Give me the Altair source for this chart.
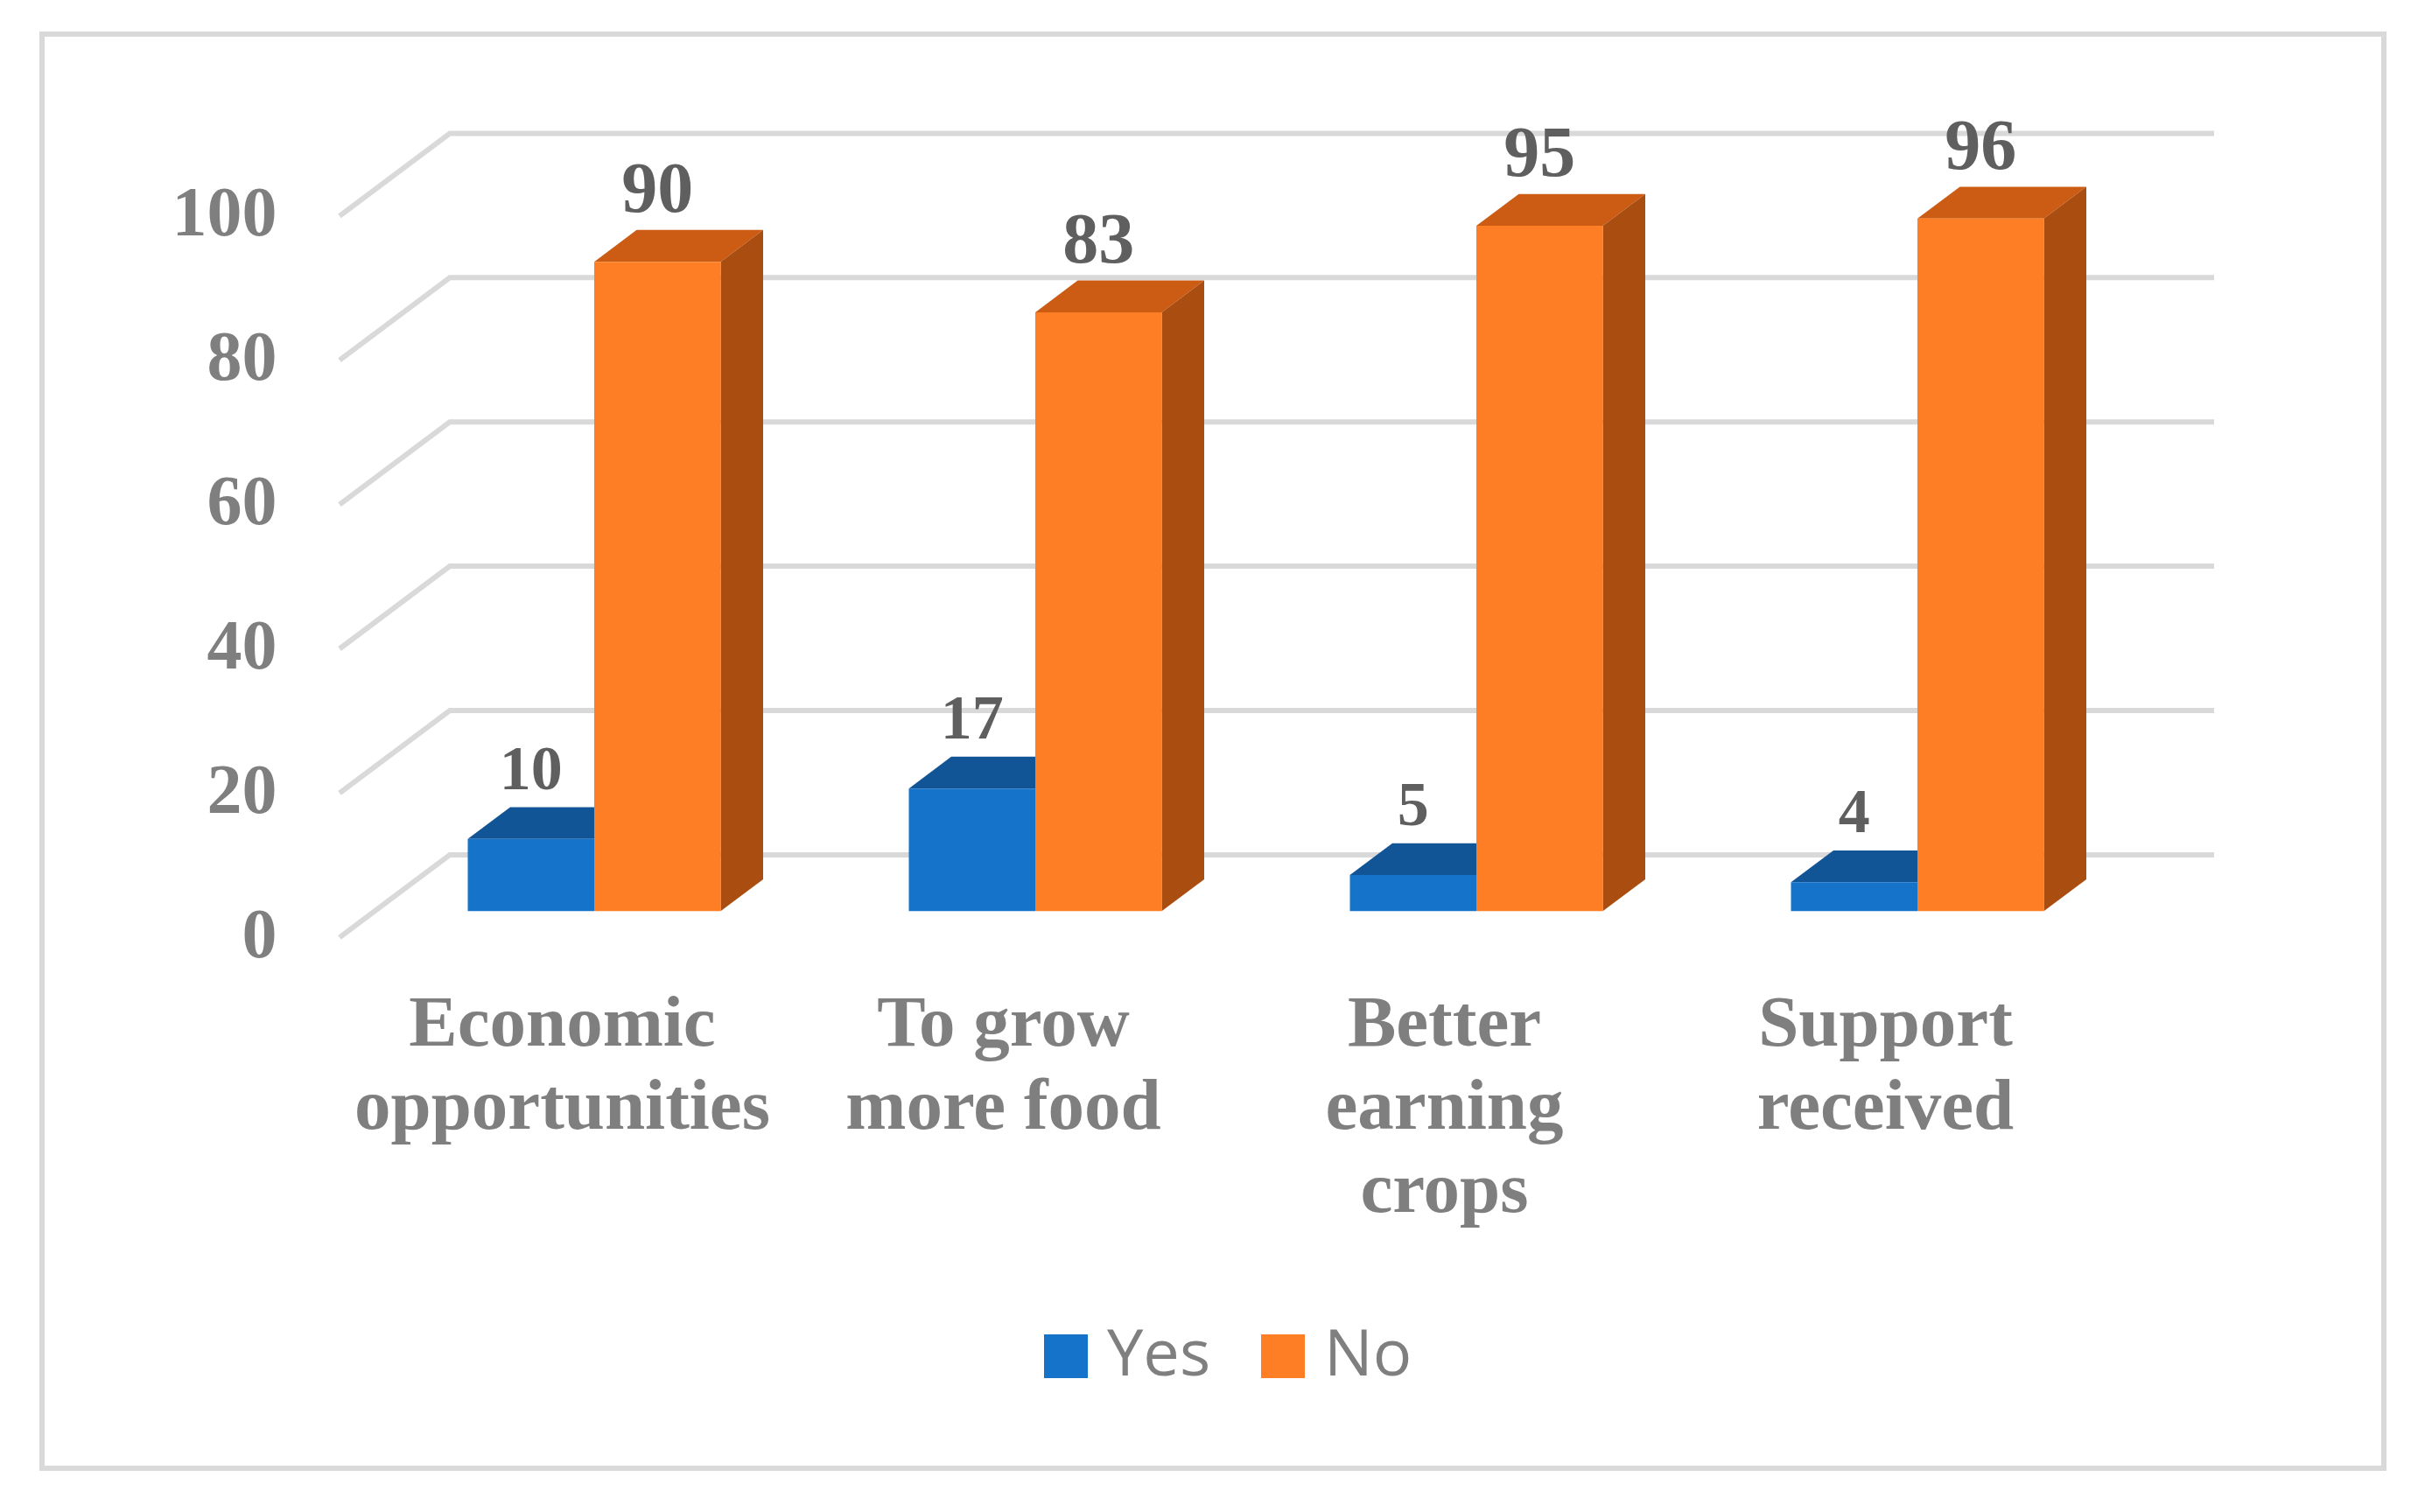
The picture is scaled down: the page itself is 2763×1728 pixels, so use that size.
import json
import altair as alt
import pandas as pd

categories = ["Economic opportunities", "To grow more food", "Better earning crops", "Support received"]
label_lines = [["Economic", "opportunities"], ["To grow", "more food"], ["Better", "earning", "crops"], ["Support", "received"]]
yes_values = [10, 17, 5, 4]
no_values = [90, 83, 95, 96]
y_ticks = [0, 20, 40, 60, 80, 100]

# geometry of the pseudo-3D box, in scale units
PX_X = 504.0      # pixels per category step
PX_Y = 8.245      # pixels per value unit
BAR_W = 144.5 / PX_X
BAR_SHIFT = 37 / PX_X     # boundary of Yes/No relative to label centre
DEPTH_X = 48.5 / PX_X
DEPTH_Y = 36.4 / PX_Y
BASE = 30.0 / PX_Y        # front of bars above the axis' front zero
WALL_X0 = (388 - 642) / PX_X
WALL_X1 = (514 - 642) / PX_X
WALL_X2 = (2530 - 642) / PX_X
WALL_DY = 94.4 / PX_Y

L, T, R, B = 48.0, 39.0, 2724.0, 1678.0
x_dom = [(L - 642) / PX_X, (R - 642) / PX_X]
y_dom = [-(B - 1071.3) / PX_Y, (1071.3 - T) / PX_Y]

C_YES, C_YES_TOP = "#1573CA", "#125596"
C_NO, C_NO_TOP, C_NO_SIDE = "#FE7E25", "#CC5C14", "#AA4D10"
C_GRID = "#D9D9D9"

fronts, tops, sides = [], [], []
for i, (a, b) in enumerate(zip(yes_values, no_values)):
    mid = i + BAR_SHIFT
    for s, v, x0, x1, ct, cs in [("Yes", a, mid - BAR_W, mid, C_YES_TOP, None),
                                 ("No", b, mid, mid + BAR_W, C_NO_TOP, C_NO_SIDE)]:
        top = BASE + v
        fronts.append(dict(series=s, x=x0, x2=x1, y=BASE, y2=top, v=v, cx=(x0 + x1) / 2))
        key = f"{s}{i}"
        tops.append(dict(k=key, c=ct, y=top, x=x0, x2=x1))
        tops.append(dict(k=key, c=ct, y=top + DEPTH_Y, x=x0 + DEPTH_X, x2=x1 + DEPTH_X))
        if cs:
            sides.append(dict(k=key, c=cs, x=x1, y=BASE, y2=top))
            sides.append(dict(k=key, c=cs, x=x1 + DEPTH_X, y=BASE + DEPTH_Y, y2=top + DEPTH_Y))

grid = []
for t in y_ticks:
    grid.append(dict(t=t, o=0, x=WALL_X0, y=t))
    grid.append(dict(t=t, o=1, x=WALL_X1, y=t + WALL_DY))
    grid.append(dict(t=t, o=2, x=WALL_X2, y=t + WALL_DY))

fronts, tops, sides, grid = map(pd.DataFrame, (fronts, tops, sides, grid))

xs = alt.Scale(domain=x_dom, nice=False, zero=False)
ys = alt.Scale(domain=y_dom, nice=False, zero=False)

SERIF = "Liberation Serif"

x_axis = alt.Axis(
    values=[0, 1, 2, 3], title=None, domain=False, ticks=False, grid=False,
    labelExpr=json.dumps(label_lines) + "[datum.value]",
    labelFont=SERIF, labelFontWeight="bold", labelFontSize=83, labelColor="#7F7F7F",
    labelLineHeight=95, labelLimit=1000, labelOverlap=False, labelAlign="center",
    labelBaseline="top", labelPadding=0, offset=-(B - 1128), labelFlush=False,
)
y_axis = alt.Axis(
    values=y_ticks, title=None, domain=False, ticks=False, grid=False,
    labelFont=SERIF, labelFontWeight="bold", labelFontSize=80, labelColor="#7F7F7F",
    labelPadding=0, offset=-268, labelOffset=-2, labelOverlap=False, labelFlush=False,
)
X = lambda f: alt.X(f, scale=xs, axis=x_axis)
Y = lambda f: alt.Y(f, scale=ys, axis=y_axis)

grid_layer = alt.Chart(grid).mark_line(color=C_GRID, strokeWidth=6, strokeJoin="miter").encode(
    x=X("x:Q"), y=Y("y:Q"), detail="t:N", order="o:Q",
)
top_layer = alt.Chart(tops).mark_area(orient="horizontal").encode(
    y=Y("y:Q"), x=X("x:Q"), x2="x2:Q",
    detail="k:N", color=alt.Color("c:N", scale=None),
)
side_layer = alt.Chart(sides).mark_area(orient="vertical").encode(
    x=X("x:Q"), y=Y("y:Q"), y2="y2:Q",
    detail="k:N", color=alt.Color("c:N", scale=None),
)
front_layer = alt.Chart(fronts).mark_rect().encode(
    x=X("x:Q"), x2="x2:Q", y=Y("y:Q"), y2="y2:Q",
    color=alt.Color("series:N", scale=alt.Scale(domain=["Yes", "No"], range=[C_YES, C_NO]),
                    legend=alt.Legend(
                        orient="none", legendX=1133, legendY=1474, direction="horizontal",
                        columns=2, title=None, symbolType="square", symbolSize=2500,
                        symbolStrokeWidth=0, labelFont="Open Sans", labelFontSize=74,
                        labelColor="#7F7F7F", labelOffset=10, columnPadding=45,
                        labelLimit=400)),
)
def value_labels(series, size):
    return alt.Chart(fronts[fronts.series == series]).mark_text(
        font=SERIF, fontWeight="bold", fontSize=size, color="#5F5F5F",
        baseline="alphabetic", align="center", dy=-57,
    ).encode(
        x=X("cx:Q"), y=Y("y2:Q"), text="v:Q",
    )

chart = alt.layer(
    grid_layer, top_layer, side_layer, front_layer, value_labels("Yes", 72), value_labels("No", 82)
).properties(
    width=R - L, height=B - T,
    autosize=alt.AutoSizeParams(type="none"),
    padding={"left": L - 8, "top": T - 8, "right": 30, "bottom": 30},
    background="white",
).configure_view(stroke=C_GRID, strokeWidth=6)

chart.save("out.html", embed_options={"renderer": "svg", "actions": False})
